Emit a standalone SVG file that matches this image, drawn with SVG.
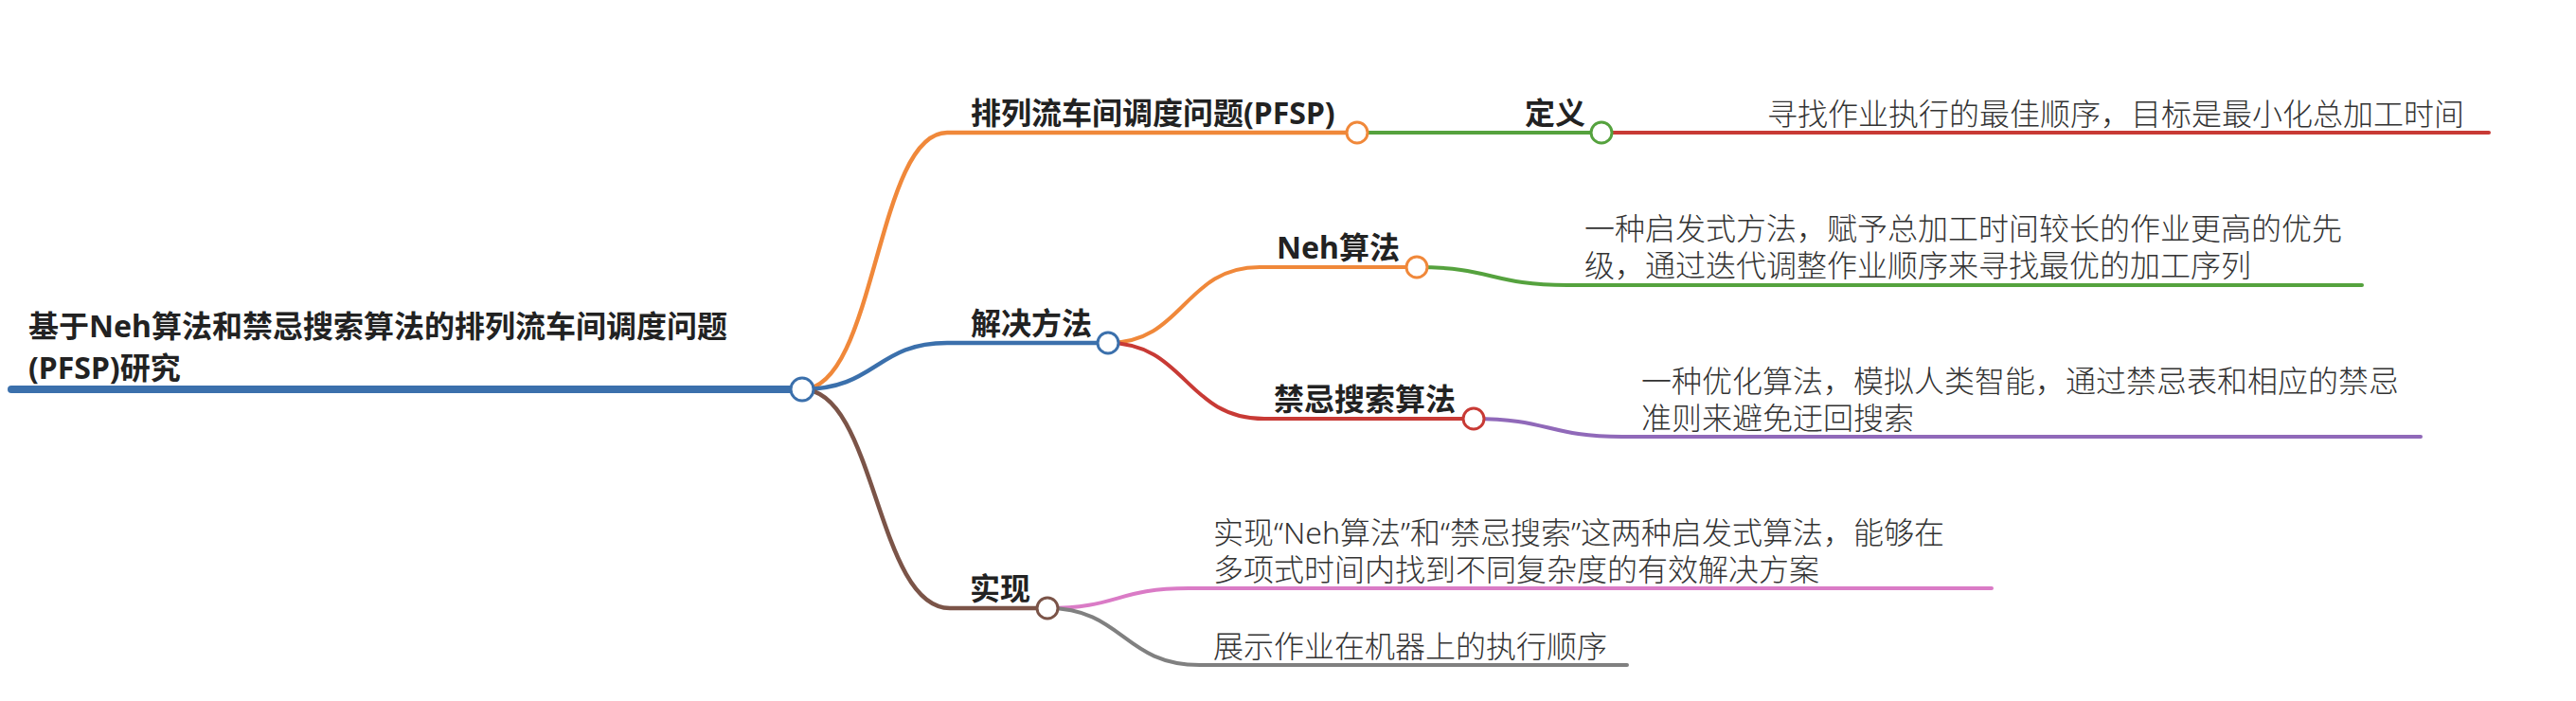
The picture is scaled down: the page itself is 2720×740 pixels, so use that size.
<svg xmlns="http://www.w3.org/2000/svg" width="2720" height="740" viewBox="0 0 2720 740">
<style>
.b{font-family:"Noto Sans","Noto Sans CJK SC",sans-serif;font-weight:700;font-size:32px;fill:#222}
.d{font-family:"Noto Sans","Noto Sans CJK SC",sans-serif;font-weight:300;font-size:32px;fill:#333}
.c{fill:none;stroke-linecap:round}
.n{fill:#fff;stroke-width:3}
</style>
<rect width="2720" height="740" fill="#fff"/>
<g id="connectors">
<path class="c" d="M 12 411 L 847 411" stroke="#3b70ac" stroke-width="8"/>
<path class="c" d="M 847 411 C 925 411 925 140 1000 140 L 1433 140" stroke="#f0883a" stroke-width="4.5"/>
<path class="c" d="M 847 411 C 925 411 925 362 1000 362 L 1170 362" stroke="#3b70ac" stroke-width="4.5"/>
<path class="c" d="M 847 411 C 925 411 925 642 1003 642 L 1106 642" stroke="#7b5448" stroke-width="4.5"/>
<path class="c" d="M 1433 140 L 1691 140" stroke="#55a23e" stroke-width="4"/>
<path class="c" d="M 1691 140 L 2628 140" stroke="#c83a35" stroke-width="4"/>
<path class="c" d="M 1170 362 C 1250 362 1250 282 1330 282 L 1496 282" stroke="#f0883a" stroke-width="4"/>
<path class="c" d="M 1170 362 C 1252 362 1252 442 1335 442 L 1556 442" stroke="#c83a35" stroke-width="4"/>
<path class="c" d="M 1496 282 C 1575 282 1575 301 1655 301 L 2494 301" stroke="#55a23e" stroke-width="4"/>
<path class="c" d="M 1556 442 C 1635 442 1635 461 1713 461 L 2556 461" stroke="#9069b9" stroke-width="4"/>
<path class="c" d="M 1106 642 C 1180 642 1180 621 1255 621 L 2103 621" stroke="#da7bc6" stroke-width="4"/>
<path class="c" d="M 1106 642 C 1186 642 1186 702 1267 702 L 1718 702" stroke="#808080" stroke-width="4"/>
</g>
<g id="root">
<text class="b" x="30" y="356">基于Neh算法和禁忌搜索算法的排列流车间调度问题</text>
<text class="b" x="30" y="400">(PFSP)研究</text>
<circle class="n" cx="847" cy="411" r="12" stroke="#3b70ac" stroke-width="3.5"/>
</g>
<g id="pfsp">
<text class="b" x="1025" y="131">排列流车间调度问题(PFSP)</text>
<circle class="n" cx="1433" cy="140" r="11" stroke="#f0883a"/>
</g>
<g id="definition">
<text class="b" x="1610" y="131">定义</text>
<circle class="n" cx="1691" cy="140" r="11" stroke="#55a23e"/>
</g>
<g id="definition-desc">
<text class="d" x="1866" y="132">寻找作业执行的最佳顺序，目标是最小化总加工时间</text>
</g>
<g id="methods">
<text class="b" x="1025" y="353">解决方法</text>
<circle class="n" cx="1170" cy="362" r="11" stroke="#3b70ac"/>
</g>
<g id="neh">
<text class="b" x="1348" y="273">Neh算法</text>
<circle class="n" cx="1496" cy="282" r="11" stroke="#f0883a"/>
</g>
<g id="neh-desc">
<text class="d" x="1673" y="253">一种启发式方法，赋予总加工时间较长的作业更高的优先</text>
<text class="d" x="1673" y="292">级，通过迭代调整作业顺序来寻找最优的加工序列</text>
</g>
<g id="tabu">
<text class="b" x="1345" y="433">禁忌搜索算法</text>
<circle class="n" cx="1556" cy="442" r="11" stroke="#c83a35"/>
</g>
<g id="tabu-desc">
<text class="d" x="1733" y="414">一种优化算法，模拟人类智能，通过禁忌表和相应的禁忌</text>
<text class="d" x="1733" y="453">准则来避免迂回搜索</text>
</g>
<g id="impl">
<text class="b" x="1024" y="633">实现</text>
<circle class="n" cx="1106" cy="642" r="11" stroke="#7b5448"/>
</g>
<g id="impl-desc1">
<text class="d" x="1281" y="574">实现“Neh算法”和“禁忌搜索”这两种启发式算法，能够在</text>
<text class="d" x="1281" y="613">多项式时间内找到不同复杂度的有效解决方案</text>
</g>
<g id="impl-desc2">
<text class="d" x="1281" y="694">展示作业在机器上的执行顺序</text>
</g>
</svg>
